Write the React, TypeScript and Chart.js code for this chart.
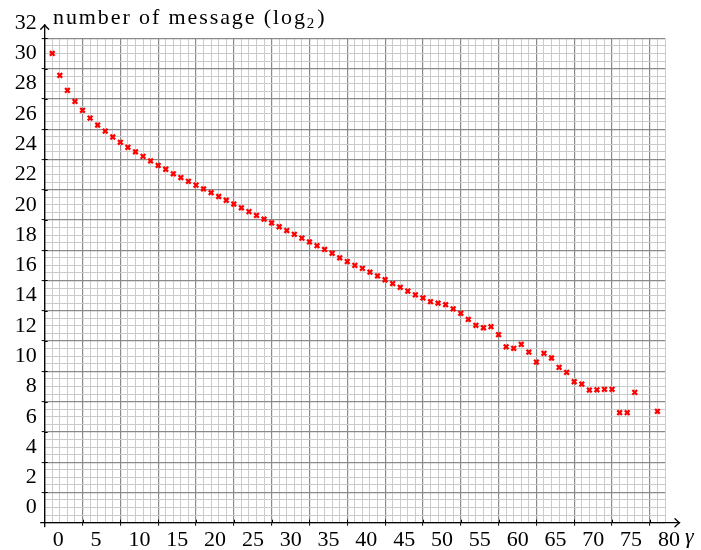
import React, { useEffect, useRef } from "react";
import { Chart, registerables } from "chart.js";

Chart.register(...registerables);

// x positions (gamma) and values (log2 of number of messages)
const gamma = [
  0, 1, 2, 3, 4, 5, 6, 7, 8, 9,
  10, 11, 12, 13, 14, 15, 16, 17, 18, 19,
  20, 21, 22, 23, 24, 25, 26, 27, 28, 29,
  30, 31, 32, 33, 34, 35, 36, 37, 38, 39,
  40, 41, 42, 43, 44, 45, 46, 47, 48, 49,
  50, 51, 52, 53, 54, 55, 56, 57, 58, 59,
  60, 61, 62, 63, 64, 65, 66, 67, 68, 69,
  70, 71, 72, 73, 74, 75, 76, 77, 80,
];
const log2Messages = [
  30.0, 28.55, 27.56, 26.83, 26.24, 25.73, 25.27, 24.87, 24.48, 24.13,
  23.8, 23.5, 23.2, 22.9, 22.6, 22.35, 22.05, 21.8, 21.55, 21.3,
  21.05, 20.8, 20.55, 20.3, 20.05, 19.8, 19.55, 19.3, 19.05, 18.8,
  18.55, 18.3, 18.05, 17.8, 17.55, 17.3, 17.05, 16.8, 16.5, 16.25,
  16.0, 15.8, 15.55, 15.3, 15.05, 14.8, 14.55, 14.3, 14.05, 13.85,
  13.6, 13.5, 13.4, 13.13, 12.83, 12.43, 12.04, 11.88, 11.95, 11.42,
  10.62, 10.52, 10.78, 10.27, 9.61, 10.19, 9.88, 9.26, 8.93, 8.31,
  8.16, 7.76, 7.78, 7.81, 7.81, 6.27, 6.27, 7.61, 6.36,
];

const xTickLabels = [0, 5, 10, 15, 20, 25, 30, 35, 40, 45, 50, 55, 60, 65, 70, 75, 80];
const yTickLabels = [0, 2, 4, 6, 8, 10, 12, 14, 16, 18, 20, 22, 24, 26, 28, 30, 32];

const X_MIN = -1;
const X_MAX = 81;
const Y_MIN = -1;
const Y_MAX = 31;

const FONT = "'Liberation Serif'";

const isMajorX = (v: number) => ((v - X_MIN) % 5 + 5) % 5 === 0;
const isMajorY = (v: number) => Math.abs(((v - Y_MIN) % 2 + 2) % 2) < 1e-9;

const overlayPlugin = {
  id: "overlay",
  afterDraw(chart: any) {
    const { ctx, chartArea } = chart;
    const { left, right, top, bottom } = chartArea;
    const xs = chart.scales.x;
    const ys = chart.scales.y;
    ctx.save();
    ctx.strokeStyle = "#000";
    ctx.lineWidth = 1.3;
    ctx.lineCap = "round";
    const xTip = right + 14.5;
    const yTip = top - 13.5;
    // x axis
    ctx.beginPath();
    ctx.moveTo(left - 4, bottom);
    ctx.lineTo(xTip, bottom);
    ctx.stroke();
    ctx.beginPath();
    ctx.moveTo(xTip - 4.5, bottom - 4);
    ctx.quadraticCurveTo(xTip - 1.5, bottom - 1, xTip, bottom);
    ctx.quadraticCurveTo(xTip - 1.5, bottom + 1, xTip - 4.5, bottom + 4);
    ctx.stroke();
    // y axis
    ctx.beginPath();
    ctx.moveTo(left, bottom + 4);
    ctx.lineTo(left, yTip);
    ctx.stroke();
    ctx.beginPath();
    ctx.moveTo(left - 4, yTip + 4.5);
    ctx.quadraticCurveTo(left - 1, yTip + 1.5, left, yTip);
    ctx.quadraticCurveTo(left + 1, yTip + 1.5, left + 4, yTip + 4.5);
    ctx.stroke();
    // inner halves of major tick marks
    ctx.lineWidth = 1;
    ctx.lineCap = "butt";
    xs.ticks.forEach((t: any) => {
      if (isMajorX(t.value) && t.value > X_MIN) {
        const px = Math.round(xs.getPixelForValue(t.value)) + 0.5;
        ctx.beginPath();
        ctx.moveTo(px, bottom);
        ctx.lineTo(px, bottom - 3);
        ctx.stroke();
      }
    });
    ys.ticks.forEach((t: any) => {
      if (isMajorY(t.value) && t.value > Y_MIN && t.value <= Y_MAX) {
        const py = Math.round(ys.getPixelForValue(t.value)) + 0.5;
        ctx.beginPath();
        ctx.moveTo(left, py);
        ctx.lineTo(left + 3, py);
        ctx.stroke();
      }
    });
    // title
    ctx.fillStyle = "#000";
    ctx.textBaseline = "alphabetic";
    ctx.textAlign = "left";
    ctx.font = `22px ${FONT}`;
    try { (ctx as any).letterSpacing = "1.9px"; } catch (e) {}
    const main = "number of message (log";
    const tx = 53;
    const ty = 23.5;
    ctx.fillText(main, tx, ty);
    const w = ctx.measureText(main).width;
    ctx.font = `15px ${FONT}`;
    ctx.fillText("2", tx + w, ty + 4.5);
    const w2 = ctx.measureText("2").width;
    ctx.font = `22px ${FONT}`;
    ctx.fillText(")", tx + w + w2 + 1, ty);
    try { (ctx as any).letterSpacing = "0px"; } catch (e) {}
    // gamma axis name
    ctx.font = `italic 22px ${FONT}`;
    ctx.fillText("γ", right + 20, bottom + 20.5);
    ctx.restore();
  },
};

export default function App() {
  const canvasRef = useRef<HTMLCanvasElement | null>(null);

  useEffect(() => {
    document.body.style.margin = "0";
    const canvas = canvasRef.current;
    if (!canvas) return;
    const points = gamma.map((g, i) => ({ x: g, y: log2Messages[i] }));
    const chart = new Chart(canvas, {
      type: "scatter",
      data: {
        datasets: [
          {
            data: points,
            pointStyle: "crossRot",
            pointRadius: 3.3,
            pointBorderWidth: 2.3,
            borderColor: "#ff0000",
            backgroundColor: "#ff0000",
            pointHoverRadius: 3.3,
          },
        ],
      },
      options: {
        animation: false,
        responsive: false,
        events: [],
        layout: { padding: { top: 38.3, right: 36, left: 0, bottom: 0 } },
        plugins: {
          legend: { display: false },
          title: { display: false },
          tooltip: { enabled: false },
        },
        scales: {
          x: {
            type: "linear",
            min: X_MIN,
            max: X_MAX,
            afterBuildTicks: (scale: any) => {
              const t: any[] = [];
              for (let v = X_MIN; v <= X_MAX; v++) t.push({ value: v });
              scale.ticks = t;
            },
            afterFit: (scale: any) => {
              scale.height = 27.3;
            },
            border: { display: false },
            grid: {
              color: (c: any) => (isMajorX(c.tick.value) ? "#8a8a8a" : "#cbcbcb"),
              lineWidth: (c: any) => (isMajorX(c.tick.value) ? 1.2 : 1),
              tickColor: (c: any) =>
                isMajorX(c.tick.value) && c.tick.value > X_MIN ? "#000" : "rgba(0,0,0,0)",
              tickLength: 3,
              tickWidth: 1,
            },
            ticks: {
              autoSkip: false,
              maxRotation: 0,
              minRotation: 0,
              align: "start",
              labelOffset: 0.5,
              padding: 1,
              color: "#000",
              font: { family: FONT, size: 22 },
              callback: (v: any) => (xTickLabels.includes(v) ? String(v) : ""),
            },
          },
          y: {
            type: "linear",
            min: Y_MIN,
            max: Y_MAX,
            afterBuildTicks: (scale: any) => {
              const t: any[] = [];
              for (let v = Y_MIN; v <= Y_MAX + 1e-9; v += 0.5) t.push({ value: v });
              t.push({ value: yTickLabels[yTickLabels.length - 1] });
              scale.ticks = t;
            },
            afterFit: (scale: any) => {
              scale.width = 44.7;
            },
            border: { display: false },
            grid: {
              color: (c: any) =>
                c.tick.value > Y_MAX
                  ? "rgba(0,0,0,0)"
                  : isMajorY(c.tick.value)
                  ? "#8a8a8a"
                  : "#cbcbcb",
              lineWidth: (c: any) => (isMajorY(c.tick.value) ? 1.2 : 1),
              tickColor: (c: any) =>
                isMajorY(c.tick.value) && c.tick.value > Y_MIN && c.tick.value <= Y_MAX
                  ? "#000"
                  : "rgba(0,0,0,0)",
              tickLength: 3,
              tickWidth: 1,
            },
            ticks: {
              autoSkip: false,
              padding: 5,
              color: "#000",
              font: { family: FONT, size: 22 },
              callback: (v: any) => (yTickLabels.includes(v) ? String(v) : ""),
            },
          },
        },
      },
      plugins: [overlayPlugin],
    } as any);
    return () => chart.destroy();
  }, []);

  return (
    <div style={{ position: "absolute", left: 0, top: 0, width: 701, height: 550 }}>
      <canvas ref={canvasRef} width={701} height={550} style={{ display: "block" }} />
    </div>
  );
}
